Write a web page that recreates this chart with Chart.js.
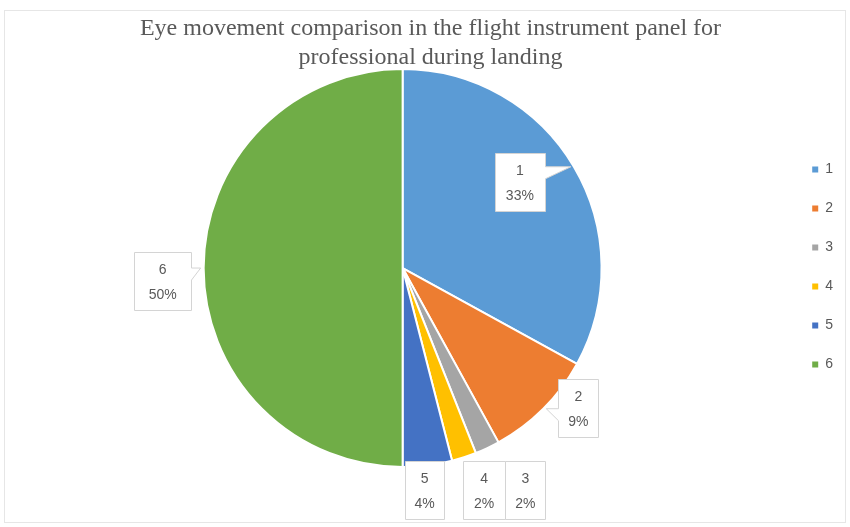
<!DOCTYPE html>
<html>
<head>
<meta charset="utf-8">
<script src="https://cdn.jsdelivr.net/npm/chart.js@4.4.1/dist/chart.umd.min.js"></script>
<style>
  html, body { margin: 0; padding: 0; background: #fff; }
  #wrap { width: 850px; height: 527px; }
</style>
</head>
<body>
<div id="wrap"><canvas id="eyeChart" width="850" height="527"></canvas></div>
<script>
const labels = ["1", "2", "3", "4", "5", "6"];
const percents = [33, 9, 2, 2, 4, 50];
const colors = ["#5B9BD5", "#ED7D31", "#A5A5A5", "#FFC000", "#4472C4", "#70AD47"];
const titleLines = ["Eye movement comparison in the flight instrument panel for", "professional during landing"];

// callout boxes: centre offset from the slice's outer edge point, box width, whether it has a pointer
const calloutOffset = [[-54, 15], [35, -1], [38, 42], [20, 33], [-3, 25], [-41, 13]];
const calloutWidth = [50, 40, 40, 42, 39, 57];
const calloutPointer = [true, true, false, false, false, true];
const calloutHeight = 58;

const textColor = "#595959";
const sansFont = '"Liberation Sans", Arial, sans-serif';

const backgroundPlugin = {
  id: "background",
  beforeDraw(chart) {
    const ctx = chart.ctx;
    ctx.save();
    ctx.fillStyle = "#ffffff";
    ctx.fillRect(0, 0, chart.width, chart.height);
    ctx.strokeStyle = "#e6e6e6";
    ctx.lineWidth = 1;
    ctx.strokeRect(4.5, 10.5, chart.width - 9, chart.height - 15);
    ctx.restore();
  }
};

const calloutPlugin = {
  id: "callouts",
  afterDatasetsDraw(chart) {
    const ctx = chart.ctx;
    const arcs = chart.getDatasetMeta(0).data;
    ctx.save();
    ctx.lineWidth = 1;
    arcs.forEach((arc, i) => {
      const mid = (arc.startAngle + arc.endAngle) / 2;
      const ex = arc.x + Math.cos(mid) * arc.outerRadius;
      const ey = arc.y + Math.sin(mid) * arc.outerRadius;
      const w = calloutWidth[i];
      const h = calloutHeight;
      const cx = ex + calloutOffset[i][0];
      const cy = ey + calloutOffset[i][1];
      const l = Math.round(cx - w / 2) + 0.5, r = Math.round(cx + w / 2) + 0.5;
      const t = Math.round(cy - h / 2) + 0.5, b = Math.round(cy + h / 2) + 0.5;

      ctx.beginPath();
      ctx.moveTo(l, t);
      if (calloutPointer[i] && ex > r) {
        const py = Math.min(Math.max(ey, t + 4), b - 16);
        ctx.lineTo(r, t);
        ctx.lineTo(r, py);
        ctx.lineTo(ex - 3, ey);
        ctx.lineTo(r, py + 12);
        ctx.lineTo(r, b);
        ctx.lineTo(l, b);
      } else if (calloutPointer[i] && ex < l) {
        const py = Math.min(Math.max(ey, t + 4), b - 16);
        ctx.lineTo(r, t);
        ctx.lineTo(r, b);
        ctx.lineTo(l, b);
        ctx.lineTo(l, py + 12);
        ctx.lineTo(ex + 3, ey);
        ctx.lineTo(l, py);
      } else {
        ctx.lineTo(r, t);
        ctx.lineTo(r, b);
        ctx.lineTo(l, b);
      }
      ctx.closePath();
      ctx.fillStyle = "#ffffff";
      ctx.fill();
      ctx.strokeStyle = "#d4d4d4";
      ctx.stroke();

      ctx.fillStyle = textColor;
      ctx.font = "14px " + sansFont;
      ctx.textAlign = "center";
      ctx.textBaseline = "middle";
      ctx.fillText(labels[i], cx, cy - 11);
      ctx.fillText(percents[i] + "%", cx, cy + 14);
    });
    ctx.restore();
  }
};

new Chart(document.getElementById("eyeChart"), {
  type: "pie",
  data: {
    labels: labels,
    datasets: [{
      data: percents,
      backgroundColor: colors,
      borderColor: "#ffffff",
      borderWidth: 2
    }]
  },
  options: {
    responsive: false,
    animation: false,
    layout: { padding: { left: 18, right: 7, top: 0, bottom: 59 } },
    plugins: {
      title: {
        display: true,
        text: titleLines,
        color: textColor,
        font: { family: '"Liberation Serif", "Times New Roman", serif', size: 24, weight: "normal", lineHeight: 1.21 },
        padding: { top: 14, bottom: -4 }
      },
      legend: {
        position: "right",
        align: "center",
        // empty title only used as spacer to push the items down
        title: { display: true, text: " ", font: { size: 10, lineHeight: 1 }, padding: { top: 56, bottom: 0 } },
        labels: {
          boxWidth: 6,
          boxHeight: 6,
          padding: 25,
          color: textColor,
          font: { family: sansFont, size: 14 },
          generateLabels(chart) {
            return Chart.overrides.pie.plugins.legend.labels.generateLabels(chart)
              .map(item => Object.assign(item, { lineWidth: 0 }));
          }
        }
      },
      tooltip: { enabled: false }
    }
  },
  plugins: [backgroundPlugin, calloutPlugin]
});
</script>
</body>
</html>
